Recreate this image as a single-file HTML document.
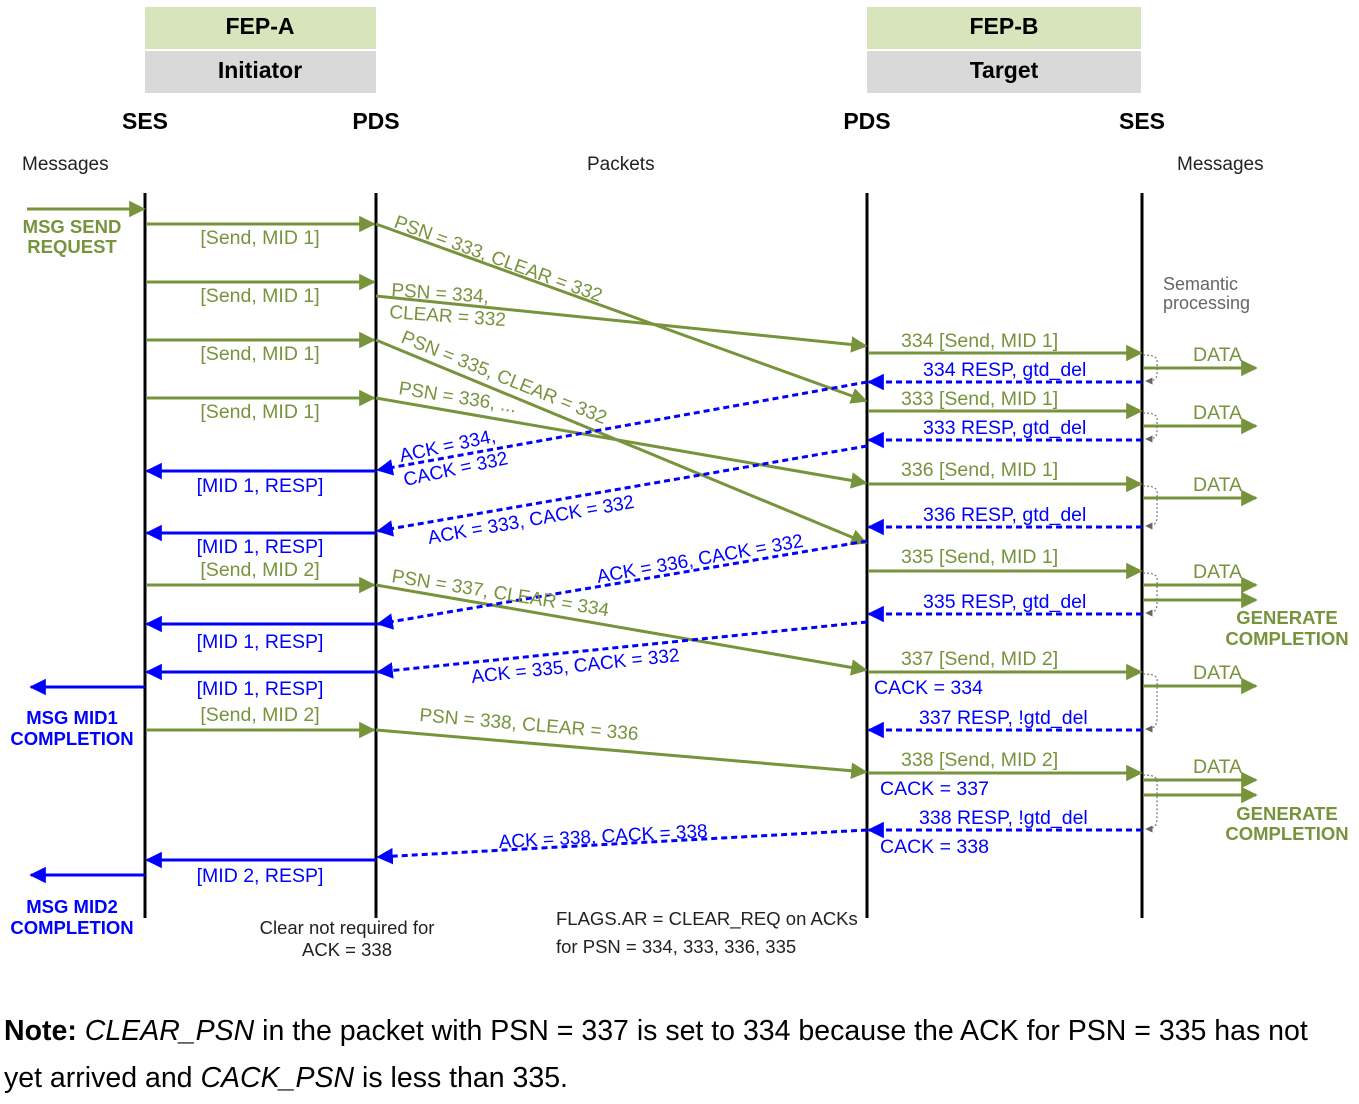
<!DOCTYPE html>
<html><head><meta charset="utf-8"><style>
html,body{margin:0;padding:0;background:#fff;}
svg{display:block;font-family:"Liberation Sans",sans-serif;}
.g{fill:#77933c;font-size:19.5px;}
.b{fill:#0000ff;font-size:19.5px;}
.d{fill:#77933c;font-size:19px;}
.e{fill:#0000ff;font-size:19px;}
.k{fill:#000;}
</style></head><body>
<svg width="1359" height="1104" viewBox="0 0 1359 1104" xmlns="http://www.w3.org/2000/svg">
<defs>
<marker id="ag" viewBox="0 0 10 10" refX="9" refY="5" markerWidth="5.5" markerHeight="5.5" orient="auto-start-reverse" markerUnits="strokeWidth"><path d="M0,0 L10,5 L0,10 z" fill="#77933c"/></marker>
<marker id="ab" viewBox="0 0 10 10" refX="9" refY="5" markerWidth="5.5" markerHeight="5.5" orient="auto-start-reverse" markerUnits="strokeWidth"><path d="M0,0 L10,5 L0,10 z" fill="#0000ff"/></marker>
<marker id="ak" viewBox="0 0 10 10" refX="9" refY="5" markerWidth="6" markerHeight="6" orient="auto"><path d="M0,0 L10,5 L0,10 z" fill="#666"/></marker>
</defs>

<rect x="145" y="7" width="231" height="42" fill="#d7e4bc"/>
<rect x="145" y="51" width="231" height="42" fill="#d9d9d9"/>
<rect x="867" y="7" width="274" height="42" fill="#d7e4bc"/>
<rect x="867" y="51" width="274" height="42" fill="#d9d9d9"/>
<g font-weight="bold" font-size="23" text-anchor="middle" class="k">
<text x="260" y="34">FEP-A</text><text x="260" y="78">Initiator</text>
<text x="1004" y="34">FEP-B</text><text x="1004" y="78">Target</text>
<text x="145" y="129">SES</text><text x="376" y="129">PDS</text>
<text x="867" y="129">PDS</text><text x="1142" y="129">SES</text>
</g>
<g font-size="19" fill="#222">
<text x="22" y="170">Messages</text>
<text x="587" y="170">Packets</text>
<text x="1177" y="170">Messages</text>
</g>
<text x="1163" y="290" font-size="18" fill="#666">Semantic</text>
<text x="1163" y="309" font-size="18" fill="#666">processing</text>

<g stroke="#000" stroke-width="3">
<line x1="145" y1="193" x2="145" y2="918"/>
<line x1="376" y1="193" x2="376" y2="918"/>
<line x1="867" y1="193" x2="867" y2="918"/>
<line x1="1142" y1="193" x2="1142" y2="918"/>
</g>

<g stroke="#77933c" stroke-width="3" fill="none" marker-end="url(#ag)">
<line x1="27" y1="209" x2="144" y2="209"/>
<line x1="146" y1="224" x2="374" y2="224"/>
<line x1="146" y1="282" x2="374" y2="282"/>
<line x1="146" y1="340" x2="374" y2="340"/>
<line x1="146" y1="398" x2="374" y2="398"/>
<line x1="146" y1="585" x2="374" y2="585"/>
<line x1="146" y1="730" x2="374" y2="730"/>
<line x1="376" y1="224" x2="866" y2="401"/>
<line x1="376" y1="296" x2="866" y2="346"/>
<line x1="376" y1="340" x2="866" y2="543"/>
<line x1="376" y1="398" x2="866" y2="483"/>
<line x1="376" y1="585" x2="866" y2="670"/>
<line x1="376" y1="730" x2="866" y2="772"/>
<line x1="868" y1="353" x2="1141" y2="353"/>
<line x1="868" y1="411" x2="1141" y2="411"/>
<line x1="868" y1="484" x2="1141" y2="484"/>
<line x1="868" y1="571" x2="1141" y2="571"/>
<line x1="868" y1="672" x2="1141" y2="672"/>
<line x1="868" y1="773" x2="1141" y2="773"/>
<line x1="1143" y1="368" x2="1256" y2="368"/>
<line x1="1143" y1="426" x2="1256" y2="426"/>
<line x1="1143" y1="498" x2="1256" y2="498"/>
<line x1="1143" y1="585" x2="1256" y2="585"/>
<line x1="1143" y1="600" x2="1256" y2="600"/>
<line x1="1143" y1="686" x2="1256" y2="686"/>
<line x1="1143" y1="780" x2="1256" y2="780"/>
<line x1="1143" y1="795" x2="1256" y2="795"/>
</g>

<g stroke="#0000ff" stroke-width="3" fill="none" marker-end="url(#ab)">
<line x1="376" y1="471" x2="147" y2="471"/>
<line x1="376" y1="533" x2="147" y2="533"/>
<line x1="376" y1="624" x2="147" y2="624"/>
<line x1="376" y1="672" x2="147" y2="672"/>
<line x1="376" y1="860" x2="147" y2="860"/>
<line x1="145" y1="687" x2="31" y2="687"/>
<line x1="145" y1="875" x2="31" y2="875"/>
</g>
<g stroke="#0000ff" stroke-width="3" stroke-dasharray="6,4" fill="none" marker-end="url(#ab)">
<line x1="867" y1="382" x2="378" y2="470"/>
<line x1="867" y1="446" x2="378" y2="531"/>
<line x1="867" y1="541" x2="378" y2="624"/>
<line x1="867" y1="622" x2="378" y2="672"/>
<line x1="867" y1="830" x2="378" y2="857"/>
<line x1="1142" y1="382" x2="869" y2="382"/>
<line x1="1142" y1="440" x2="869" y2="440"/>
<line x1="1142" y1="527" x2="869" y2="527"/>
<line x1="1142" y1="614" x2="869" y2="614"/>
<line x1="1142" y1="730" x2="869" y2="730"/>
<line x1="1142" y1="830" x2="869" y2="830"/>
</g>
<g stroke="#777" stroke-width="1.2" stroke-dasharray="2,2" fill="none" marker-end="url(#ak)">
<path d="M1143,355 C1160,355 1157,360 1157,368 L1157,372 C1157,380 1154,381 1146,381"/>
<path d="M1143,413 C1160,413 1157,418 1157,426 L1157,430 C1157,438 1154,439 1146,439"/>
<path d="M1143,486 C1160,486 1157,491 1157,500 L1157,516 C1157,524 1154,526 1146,526"/>
<path d="M1143,573 C1160,573 1157,578 1157,586 L1157,603 C1157,611 1154,613 1146,613"/>
<path d="M1143,674 C1160,674 1157,679 1157,688 L1157,718 C1157,726 1154,729 1146,729"/>
<path d="M1143,775 C1160,775 1157,780 1157,790 L1157,818 C1157,826 1154,829 1146,829"/>
</g>

<g class="g" text-anchor="middle">
<text x="260" y="244">[Send, MID 1]</text>
<text x="260" y="302">[Send, MID 1]</text>
<text x="260" y="360">[Send, MID 1]</text>
<text x="260" y="418">[Send, MID 1]</text>
<text x="260" y="576">[Send, MID 2]</text>
<text x="260" y="721">[Send, MID 2]</text>
</g>
<g class="b" text-anchor="middle">
<text x="260" y="492">[MID 1, RESP]</text>
<text x="260" y="553">[MID 1, RESP]</text>
<text x="260" y="648">[MID 1, RESP]</text>
<text x="260" y="695">[MID 1, RESP]</text>
<text x="260" y="882">[MID 2, RESP]</text>
</g>
<g font-weight="bold" font-size="18.5" text-anchor="middle">
<text x="72" y="233" fill="#77933c">MSG SEND</text>
<text x="72" y="253" fill="#77933c">REQUEST</text>
<text x="72" y="724" fill="#0000ff">MSG MID1</text>
<text x="72" y="745" fill="#0000ff">COMPLETION</text>
<text x="72" y="913" fill="#0000ff">MSG MID2</text>
<text x="72" y="934" fill="#0000ff">COMPLETION</text>
<text x="1287" y="624" fill="#77933c">GENERATE</text>
<text x="1287" y="645" fill="#77933c">COMPLETION</text>
<text x="1287" y="820" fill="#77933c">GENERATE</text>
<text x="1287" y="840" fill="#77933c">COMPLETION</text>
</g>

<text class="d" transform="translate(393,227) rotate(20)">PSN = 333, CLEAR = 332</text>
<text class="d" transform="translate(391,296) rotate(4)">PSN = 334,</text>
<text class="d" transform="translate(389,318) rotate(4)">CLEAR = 332</text>
<text class="d" transform="translate(400,342) rotate(22)">PSN = 335, CLEAR = 332</text>
<text class="d" transform="translate(398,394) rotate(9)">PSN = 336, ...</text>
<text class="d" transform="translate(391,582) rotate(9)">PSN = 337, CLEAR = 334</text>
<text class="d" transform="translate(419,721) rotate(5)">PSN = 338, CLEAR = 336</text>
<text class="e" transform="translate(401,462) rotate(-12)">ACK = 334,</text>
<text class="e" transform="translate(405,486) rotate(-12)">CACK = 332</text>
<text class="e" transform="translate(429,544) rotate(-10)">ACK = 333, CACK = 332</text>
<text class="e" transform="translate(598,583) rotate(-10)">ACK = 336, CACK = 332</text>
<text class="e" transform="translate(472,683) rotate(-6)">ACK = 335, CACK = 332</text>
<text class="e" transform="translate(499,848) rotate(-3)">ACK = 338, CACK = 338</text>

<g class="g">
<text x="901" y="347">334 [Send, MID 1]</text>
<text x="901" y="405">333 [Send, MID 1]</text>
<text x="901" y="476">336 [Send, MID 1]</text>
<text x="901" y="563">335 [Send, MID 1]</text>
<text x="901" y="665">337 [Send, MID 2]</text>
<text x="901" y="766">338 [Send, MID 2]</text>
<text x="1193" y="361">DATA</text>
<text x="1193" y="419">DATA</text>
<text x="1193" y="491">DATA</text>
<text x="1193" y="578">DATA</text>
<text x="1193" y="679">DATA</text>
<text x="1193" y="773">DATA</text>
</g>
<g class="b">
<text x="923" y="376">334 RESP, gtd_del</text>
<text x="923" y="434">333 RESP, gtd_del</text>
<text x="923" y="521">336 RESP, gtd_del</text>
<text x="923" y="608">335 RESP, gtd_del</text>
<text x="874" y="694">CACK = 334</text>
<text x="919" y="724">337 RESP, !gtd_del</text>
<text x="880" y="795">CACK = 337</text>
<text x="919" y="824">338 RESP, !gtd_del</text>
<text x="880" y="853">CACK = 338</text>
</g>

<g font-size="18.5" fill="#222">
<text x="347" y="934" text-anchor="middle">Clear not required for</text>
<text x="347" y="956" text-anchor="middle">ACK = 338</text>
<text x="556" y="925">FLAGS.AR = CLEAR_REQ on ACKs</text>
<text x="556" y="953">for PSN = 334, 333, 336, 335</text>
</g>
<g font-size="28.5" fill="#000">
<text x="4" y="1040"><tspan font-weight="bold">Note:</tspan> <tspan font-style="italic">CLEAR_PSN</tspan> in the packet with PSN = 337 is set to 334 because the ACK for PSN = 335 has not</text>
<text x="4" y="1087">yet arrived and <tspan font-style="italic">CACK_PSN</tspan> is less than 335.</text>
</g>
</svg>
</body></html>
